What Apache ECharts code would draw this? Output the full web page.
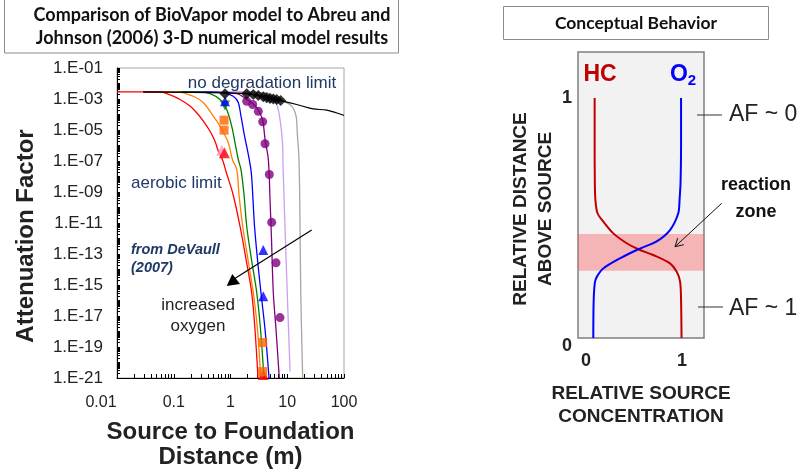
<!DOCTYPE html>
<html><head><meta charset="utf-8">
<script src="https://cdn.jsdelivr.net/npm/echarts@6/dist/echarts.min.js"></script>
<style>html,body{margin:0;padding:0;background:#fff}#c{width:801px;height:471px}</style>
</head><body><div id="c"></div>
<script>
// ---------- Left chart: tick labels ----------
const xTickLabels = [0.01, 0.1, 1, 10, 100];
const yTickLabels = [1e-1, 1e-3, 1e-5, 1e-7, 1e-9, 1e-11, 1e-13, 1e-15, 1e-17, 1e-19, 1e-21];

// ---------- BioVapor model curves (x = distance m, y = attenuation factor) ----------
const redX = [0.01, 0.057, 0.075, 0.129, 0.193, 0.254, 0.332, 0.436, 0.533, 0.61, 0.72, 0.834, 1.11, 1.47, 1.88, 2.36, 2.70, 3.05];
const redY = [2.9e-3, 2.9e-3, 2.2e-3, 9.3e-4, 3.5e-4, 1.3e-4, 3.7e-5, 8.3e-6, 1.9e-6, 4.3e-7, 1.26e-7, 2.1e-8, 6.9e-10, 6.2e-12, 4.5e-14, 3.2e-16, 1.35e-18, 1e-21];
const orangeX = [0.029, 0.113, 0.221, 0.332, 0.498, 0.653, 0.914, 1.08, 1.29, 1.41, 1.64, 2.03, 2.52, 2.99, 3.41];
const orangeY = [2.9e-3, 2.9e-3, 1.5e-3, 5.7e-4, 7.8e-5, 1.76e-5, 1.5e-6, 1.26e-7, 2.8e-8, 6.9e-10, 6.2e-12, 4.5e-14, 3.2e-16, 1.35e-18, 1e-21];
const greenX = [0.029, 0.290, 0.436, 0.653, 0.857, 1.05, 1.20, 1.37, 1.53, 1.73, 1.93, 2.34, 2.90, 3.38, 3.89];
const greenY = [2.9e-3, 2.9e-3, 2.2e-3, 9.3e-4, 2.1e-4, 1.76e-5, 1.5e-6, 1.26e-7, 2.8e-8, 6.9e-10, 6.2e-12, 4.5e-14, 3.2e-16, 1.35e-18, 1e-21];
const blueX = [0.029, 0.290, 0.746, 1.12, 1.37, 1.53, 1.77, 2.14, 2.34, 2.49, 2.65, 2.99, 3.44, 4.06, 4.77];
const blueY = [2.9e-3, 2.9e-3, 2.5e-3, 1.5e-3, 5.9e-4, 7.8e-5, 4.0e-6, 1.26e-7, 1.35e-8, 3.3e-10, 6.2e-12, 4.5e-14, 3.2e-16, 1.35e-18, 1e-21];
const purpleX = [0.029, 0.290, 1.29, 1.93, 2.46, 3.09, 3.69, 4.06, 4.64, 4.97, 5.28, 5.68, 6.34, 7.24];
const purpleY = [2.9e-3, 2.9e-3, 2.2e-3, 9.3e-4, 5.1e-4, 1.95e-4, 4.1e-5, 2.5e-6, 1.26e-7, 3.3e-10, 8.7e-13, 3.2e-16, 1.35e-18, 1e-21];
const lavenderX = [0.029, 2.21, 4.97, 6.52, 7.45, 8.25, 8.41, 9.12, 10.0, 11.2];
const lavenderY = [2.9e-3, 2.9e-3, 1.5e-3, 4.4e-4, 4.8e-5, 1.5e-6, 5.9e-8, 6.2e-12, 3.2e-16, 2.6e-21];
const grayX = [0.029, 4.06, 8.51, 12.0, 14.3, 15.0, 16.1, 16.8, 17.3, 18.7];
const grayY = [2.9e-3, 2.5e-3, 7.2e-4, 3.5e-4, 7.8e-5, 6.6e-6, 1.26e-7, 6.2e-12, 3.2e-16, 1e-21];
const blackX = [0.029, 0.80, 1.93, 3.09, 4.34, 5.68, 7.67, 14.7, 28.4, 49.6, 100];
const blackY = [2.9e-3, 2.5e-3, 2.2e-3, 1.7e-3, 1.2e-3, 1.0e-3, 7.9e-4, 4.4e-4, 2.3e-4, 1.9e-4, 8.7e-5];

// ---------- Abreu & Johnson (2006) numerical results (markers) ----------
const diamondX = [0.80, 1.93, 2.52, 3.09, 3.78, 4.34, 4.97, 5.68, 6.52, 7.67];
const diamondY = [2.2e-3, 2.2e-3, 1.95e-3, 1.7e-3, 1.4e-3, 1.2e-3, 1.07e-3, 1.0e-3, 9.3e-4, 7.9e-4];
const circleX = [1.93, 2.46, 3.09, 3.69, 4.06, 4.83, 5.32, 6.34, 7.45];
const circleY = [7.2e-4, 4.4e-4, 1.6e-4, 3.4e-5, 1.3e-6, 1.35e-8, 1.1e-11, 2.7e-14, 7.9e-18];
const blueTriX = [0.80, 3.78, 3.78];
const blueTriY = [7.2e-4, 1.8e-13, 1.9e-16];
const greenTriX = [0.80];
const greenTriY = [3.8e-4];
const orangeSqX = [0.77, 0.77, 3.69, 3.69];
const orangeSqY = [4.3e-5, 9.8e-6, 1.95e-19, 2.6e-21];
const redTriX = [0.78, 3.78];
const redTriY = [3.4e-7, 1.7e-21];
const pinkTriX = [0.70];
const pinkTriY = [5.0e-7];

// ---------- Right chart: conceptual behaviour (x = relative concentration, y = relative distance) ----------
const rTickLabels = [0, 1];
const hcConc = [0.09, 0.09, 0.092, 0.098, 0.12, 0.18, 0.284, 0.424, 0.545, 0.70, 0.875, 0.945, 0.98, 0.99, 0.995];
const hcDist = [1.0, 0.80, 0.65, 0.575, 0.52, 0.485, 0.436, 0.395, 0.37, 0.346, 0.311, 0.276, 0.235, 0.158, 0.0];
const o2Conc = [0.99, 0.99, 0.985, 0.975, 0.961, 0.875, 0.736, 0.545, 0.354, 0.18, 0.12, 0.094, 0.08, 0.076];
const o2Dist = [1.0, 0.80, 0.65, 0.58, 0.52, 0.45, 0.403, 0.37, 0.332, 0.29, 0.26, 0.235, 0.158, 0.0];
const reactionZone = [0.28, 0.433];

const zip = (a, b) => a.map((v, i) => [v, b[i]]);
const FONT = '"Liberation Sans", Arial, sans-serif';
const TFONT = 'Lato, "Liberation Sans", sans-serif';

const xMinor = [];
[0.01, 0.1, 1, 10].forEach(d => { for (let m = 1; m < 10; m++) xMinor.push(+(d * m).toPrecision(3)); });
xMinor.push(100);
const yMinor = [];
for (let e = -21; e < -1; e++) for (let m = 1; m < 10; m++) yMinor.push(m * Math.pow(10, e));
yMinor.push(1e-1);

const lineS = (name, xs, ys, color, w) => ({
  name, type: 'line', xAxisIndex: 0, yAxisIndex: 0, data: zip(xs, ys),
  showSymbol: false, smooth: 0.35, lineStyle: { color, width: w || 1.3 }, itemStyle: { color }, z: 2
});
const markS = (name, xs, ys, symbol, color, size, rot) => ({
  name, type: 'scatter', xAxisIndex: 0, yAxisIndex: 0, data: zip(xs, ys),
  symbol, symbolSize: size, symbolRotate: rot || 0, itemStyle: { color }, z: 4
});

const chart = echarts.init(document.getElementById('c'), null, { renderer: 'canvas' });
chart.setOption({
  animation: false,
  backgroundColor: '#ffffff',
  grid: [
    { left: 117, top: 68, width: 227, height: 310, show: true, backgroundColor: '#fff', borderColor: '#a6a6a6', borderWidth: 1, containLabel: false, outerBoundsMode: 'none' },
    { left: 578, top: 52, width: 126, height: 286, show: true, backgroundColor: '#f2f2f2', borderColor: '#7f7f7f', borderWidth: 1.5, containLabel: false, outerBoundsMode: 'none' }
  ],
  xAxis: [
    {
      type: 'log', logBase: 10, gridIndex: 0, min: 0.01, max: 100,
      axisLine: { show: true, lineStyle: { color: '#000', width: 1 } },
      axisTick: { show: true, inside: true, length: 4, customValues: xMinor, lineStyle: { color: '#000' } },
      splitLine: { show: false },
      axisLabel: {
        customValues: xTickLabels, margin: 17, color: '#222', fontFamily: FONT, fontSize: 16,
        formatter: v => { const s = String(+v.toPrecision(3)); return v < 0.05 ? '{a|' + s + '}' : s; },
        rich: { a: { fontFamily: FONT, fontSize: 16, color: '#222', padding: [0, 32, 0, 0] } }
      },
      name: 'Source to Foundation\nDistance (m)', nameLocation: 'middle', nameGap: 42,
      nameTextStyle: { fontFamily: FONT, fontSize: 24, fontWeight: 'bold', color: '#222', lineHeight: 25 }
    },
    {
      type: 'value', gridIndex: 1, min: -0.0833, max: 1.229,
      axisLine: { show: false }, axisTick: { show: false }, splitLine: { show: false },
      axisLabel: { customValues: rTickLabels, margin: 14, color: '#222', fontFamily: FONT, fontSize: 18, fontWeight: 'bold' },
      name: 'RELATIVE SOURCE\nCONCENTRATION', nameLocation: 'middle', nameGap: 44,
      nameTextStyle: { fontFamily: FONT, fontSize: 19, fontWeight: 'bold', color: '#222', lineHeight: 23 }
    }
  ],
  yAxis: [
    {
      type: 'log', logBase: 10, gridIndex: 0, min: 1e-21, max: 1e-1,
      axisLine: { show: true, lineStyle: { color: '#000', width: 1 } },
      axisTick: { show: true, inside: true, length: 3, customValues: yMinor, lineStyle: { color: '#000' } },
      splitLine: { show: false },
      axisLabel: {
        customValues: yTickLabels, margin: 14, color: '#222', fontFamily: FONT, fontSize: 17,
        formatter: v => '1.E-' + String(-Math.round(Math.log10(v))).padStart(2, '0')
      }
    },
    {
      type: 'value', gridIndex: 1, min: 0, max: 1.192,
      axisLine: { show: false }, axisTick: { show: false }, splitLine: { show: false },
      axisLabel: {
        customValues: rTickLabels, margin: 6, color: '#222', fontFamily: FONT, fontSize: 18, fontWeight: 'bold',
        formatter: v => v === 0 ? '{z|0}' : String(v),
        rich: { z: { fontFamily: FONT, fontSize: 18, fontWeight: 'bold', color: '#222', padding: [16, 0, 0, 0] } }
      }
    }
  ],
  series: [
    lineS('gray', grayX, grayY, '#a6a6a6'),
    lineS('lavender', lavenderX, lavenderY, '#c9a0f0'),
    lineS('purple', purpleX, purpleY, '#800080'),
    lineS('blue', blueX, blueY, '#0000ff'),
    lineS('green', greenX, greenY, '#008000'),
    lineS('orange', orangeX, orangeY, '#ff8000'),
    lineS('red', redX, redY, '#ff0000'),
    lineS('no degradation', blackX, blackY, '#000000', 1.2),
    markS('pink tri', pinkTriX, pinkTriY, 'triangle', '#ff99cc', 11),
    markS('red tri', redTriX, redTriY, 'triangle', '#ff0000', 11),
    markS('orange sq', orangeSqX, orangeSqY, 'rect', '#ff6600', 9),
    markS('green tri', greenTriX, greenTriY, 'triangle', '#008000', 10, 180),
    markS('blue tri', blueTriX, blueTriY, 'triangle', '#0000ff', 10),
    markS('purple circles', circleX, circleY, 'circle', '#800080', 9),
    markS('diamonds', diamondX, diamondY, 'diamond', '#000000', 11),
    // right panel
    {
      name: 'HC', type: 'line', xAxisIndex: 1, yAxisIndex: 1, data: zip(hcConc, hcDist),
      showSymbol: false, smooth: 0.3, lineStyle: { color: '#c00000', width: 2 }, z: 2
    },
    {
      name: 'O2', type: 'line', xAxisIndex: 1, yAxisIndex: 1, data: zip(o2Conc, o2Dist),
      showSymbol: false, smooth: 0.3, lineStyle: { color: '#0000ff', width: 2 }, z: 2
    },
    {
      name: 'reaction zone', type: 'line', xAxisIndex: 1, yAxisIndex: 1, data: [], z: 5,
      markArea: {
        silent: true, itemStyle: { color: 'rgba(250,80,85,0.38)' },
        data: [[{ yAxis: reactionZone[0] }, { yAxis: reactionZone[1] }]]
      }
    }
  ],
  graphic: [
    // title boxes
    { type: 'rect', shape: { x: 4.5, y: -1, width: 394, height: 54 }, style: { fill: '#fff', stroke: '#8c8c8c', lineWidth: 1 }, z: 0 },
    { type: 'text', x: 212, y: 15, style: { text: 'Comparison of BioVapor model to Abreu and', fontFamily: TFONT, fontWeight: 'bold', fontSize: 18, fill: '#111', textAlign: 'center', textVerticalAlign: 'middle' } },
    { type: 'text', x: 212, y: 38, style: { text: 'Johnson (2006) 3-D numerical model results', fontFamily: TFONT, fontWeight: 'bold', fontSize: 18, fill: '#111', textAlign: 'center', textVerticalAlign: 'middle' } },
    { type: 'rect', shape: { x: 503.5, y: 6.5, width: 265, height: 33 }, style: { fill: '#fff', stroke: '#8c8c8c', lineWidth: 1 }, z: 0 },
    { type: 'text', x: 636, y: 23, style: { text: 'Conceptual Behavior', fontFamily: TFONT, fontWeight: 'bold', fontSize: 17.5, fill: '#111', textAlign: 'center', textVerticalAlign: 'middle' } },
    // left y title
    { type: 'text', x: 26, y: 236, rotation: Math.PI / 2, style: { text: 'Attenuation Factor', fontFamily: FONT, fontWeight: 'bold', fontSize: 24, fill: '#222', textAlign: 'center', textVerticalAlign: 'middle' } },
    // left annotations
    { type: 'text', x: 262, y: 83, z: 10, style: { text: 'no degradation limit', fontFamily: FONT, fontSize: 17, fill: '#1f3864', textAlign: 'center', textVerticalAlign: 'middle' } },
    { type: 'text', x: 131, y: 183, z: 10, style: { text: 'aerobic limit', fontFamily: FONT, fontSize: 17, fill: '#1f3864', textAlign: 'left', textVerticalAlign: 'middle' } },
    { type: 'text', x: 131, y: 250, z: 10, style: { text: 'from DeVaull', fontFamily: FONT, fontSize: 14.5, fontWeight: 'bold', fontStyle: 'italic', fill: '#1f3864', textAlign: 'left', textVerticalAlign: 'middle' } },
    { type: 'text', x: 131, y: 268, z: 10, style: { text: '(2007)', fontFamily: FONT, fontSize: 14.5, fontWeight: 'bold', fontStyle: 'italic', fill: '#1f3864', textAlign: 'left', textVerticalAlign: 'middle' } },
    { type: 'text', x: 198, y: 305, z: 10, style: { text: 'increased', fontFamily: FONT, fontSize: 17, fill: '#222', textAlign: 'center', textVerticalAlign: 'middle' } },
    { type: 'text', x: 198, y: 326, z: 10, style: { text: 'oxygen', fontFamily: FONT, fontSize: 17, fill: '#222', textAlign: 'center', textVerticalAlign: 'middle' } },
    { type: 'line', z: 10, shape: { x1: 311.7, y1: 230, x2: 234, y2: 279 }, style: { stroke: '#000', lineWidth: 1.2 } },
    { type: 'polygon', z: 10, shape: { points: [[232.3, 274], [226.7, 286], [240, 284]] }, style: { fill: '#000' } },
    // right annotations
    { type: 'text', x: 600, y: 75, z: 10, style: { text: 'HC', fontFamily: FONT, fontSize: 23, fontWeight: 'bold', fill: '#c00000', textAlign: 'center', textVerticalAlign: 'middle' } },
    { type: 'text', x: 683, y: 75, z: 10, style: { text: '{o|O}{s|2}', textAlign: 'center', textVerticalAlign: 'middle',
        rich: { o: { fontFamily: FONT, fontSize: 23, fontWeight: 'bold', fill: '#0000ff', color: '#0000ff' },
                s: { fontFamily: FONT, fontSize: 15, fontWeight: 'bold', fill: '#0000ff', color: '#0000ff', padding: [11, 0, 0, 0] } } } },
    { type: 'text', x: 533, y: 209, rotation: Math.PI / 2, style: { text: 'RELATIVE DISTANCE\nABOVE SOURCE', fontFamily: FONT, fontWeight: 'bold', fontSize: 19, lineHeight: 25, fill: '#222', textAlign: 'center', textVerticalAlign: 'middle' } },
    { type: 'line', shape: { x1: 697, y1: 115, x2: 722, y2: 115 }, style: { stroke: '#333', lineWidth: 1 } },
    { type: 'text', x: 729, y: 115, style: { text: 'AF ~ 0', fontFamily: FONT, fontSize: 23, fill: '#222', textAlign: 'left', textVerticalAlign: 'middle' } },
    { type: 'line', shape: { x1: 698, y1: 307, x2: 723, y2: 307 }, style: { stroke: '#333', lineWidth: 1 } },
    { type: 'text', x: 729, y: 309, style: { text: 'AF ~ 1', fontFamily: FONT, fontSize: 23, fill: '#222', textAlign: 'left', textVerticalAlign: 'middle' } },
    { type: 'text', x: 756, y: 185, style: { text: 'reaction', fontFamily: FONT, fontSize: 18, fontWeight: 'bold', fill: '#111', textAlign: 'center', textVerticalAlign: 'middle' } },
    { type: 'text', x: 756, y: 212, style: { text: 'zone', fontFamily: FONT, fontSize: 18, fontWeight: 'bold', fill: '#111', textAlign: 'center', textVerticalAlign: 'middle' } },
    { type: 'line', z: 10, shape: { x1: 721.7, y1: 203.3, x2: 675, y2: 246.7 }, style: { stroke: '#111', lineWidth: 1 } },
    { type: 'polyline', z: 10, shape: { points: [[683.8, 244.7], [675, 246.7], [677.7, 238.1]] }, style: { stroke: '#111', lineWidth: 1, fill: null } }
  ]
});
</script>
</body></html>
